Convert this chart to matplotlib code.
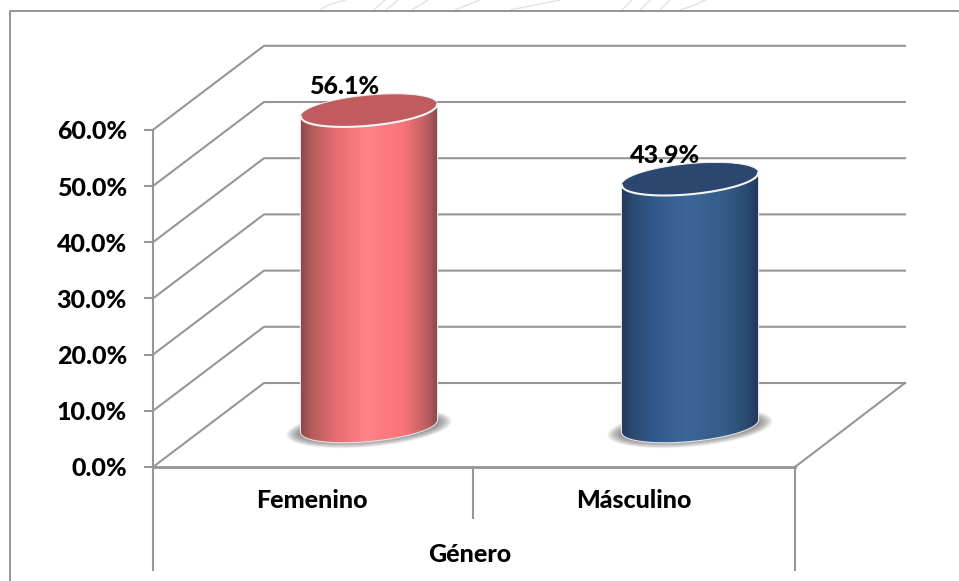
import numpy as np
import matplotlib
matplotlib.use("Agg")
import matplotlib.pyplot as plt
from matplotlib.colors import LinearSegmentedColormap
from matplotlib.patches import Ellipse, Polygon

categories = ["Femenino", "Másculino"]
values = [56.1, 43.9]
value_labels = ["56.1%", "43.9%"]
axis_title = "Género"
ticks = [0, 10, 20, 30, 40, 50, 60]
tick_labels = ["0.0%", "10.0%", "20.0%", "30.0%", "40.0%", "50.0%", "60.0%"]

body_stops = [0, 0.08, 0.25, 0.48, 0.75, 0.92, 1]
body_colors = [
    ["#8a4848", "#b35a5b", "#e26d70", "#ff8287", "#f9747a", "#bb5f61", "#8a4848"],
    ["#21385a", "#2a4a72", "#325b8b", "#3c659a", "#345d89", "#2a4a70", "#20375a"],
]
top_colors = ["#c05c5f", "#2b476f"]

# layout of the fake 3d box, in pixels
X0, X1, XMID = 153, 795, 473
Y0 = 467
PX_PER_UNIT = 5.62
DX, DY = 111, -84
GRID = "#969696"
FONT = "Lato"
TEXT_SIZE = 18


def y_of(v):
    return Y0 - v * PX_PER_UNIT


def ellipse_xy(cx, cy, t, a=68, b=15, slope=-0.09):
    x = cx + a * np.cos(t)
    y = cy + b * np.sin(t) + slope * a * np.cos(t)
    return x, y


def bold_text(x, y, s, ha="center", z=6):
    ax.text(x, y, s, ha=ha, va="center", fontsize=TEXT_SIZE, fontweight=900,
            family=FONT, color="#000000", zorder=z)


fig = plt.figure(figsize=(9.59, 5.81), dpi=100)
ax = fig.add_axes([0, 0, 1, 1])
ax.set_xlim(0, 959)
ax.set_ylim(581, 0)
ax.axis("off")

# faint scan-through of the page behind the chart
for xs in ([320, 328, 345], [374, 385], [386, 398], [412, 428], [455, 480], [510, 560],
           [622, 632], [640, 650], [660, 670], [680, 695, 705]):
    ax.plot(xs, np.linspace(10, 0, len(xs)), color="#e2e2e2", lw=1, zorder=0.5)

# outer chart frame
ax.plot([10, 10, 959], [581, 11, 11], color="#8c8c8c", lw=1.3, zorder=1)

# walls and floor
for v, lab in zip(ticks, tick_labels):
    y = y_of(v)
    ax.plot([X0 - 8, X0], [y, y], color=GRID, lw=1.5, zorder=1)
    ax.plot([X0, X0 + DX, X1 + DX - 1], [y, y + DY, y + DY], color=GRID, lw=1.5, zorder=1)
    bold_text(127, y + 2, lab, ha="right")

ax.plot([X0, X0], [y_of(60), 570], color=GRID, lw=1.5, zorder=2)
ax.plot([X0, X1], [Y0, Y0], color=GRID, lw=2, zorder=2)
ax.plot([X1, X1 + DX - 1], [Y0, Y0 + DY], color=GRID, lw=1.5, zorder=2)
ax.plot([XMID, XMID], [Y0, 518], color=GRID, lw=1.5, zorder=2)
ax.plot([X1, X1], [Y0, 570], color=GRID, lw=1.5, zorder=2)

# cylinders
centers = [369, 690]
for i, v in enumerate(values):
    cx = centers[i]
    y_bot = y_of(0) - 41
    y_top = y_bot - v * PX_PER_UNIT

    # soft floor shadow
    n = 14
    for k in range(n):
        f = 1 - k / n
        ax.add_patch(Ellipse((cx, y_bot + 2), 136 + 30 * f, 24 + 14 * f, angle=-5,
                             color="#404040", alpha=0.055, lw=0, zorder=3))

    # white halo around the body, then the gradient
    t = np.linspace(0, np.pi, 80)
    bx, by = ellipse_xy(cx, y_bot, t)
    tx, ty = ellipse_xy(cx, y_top, t + np.pi)
    poly = np.column_stack([np.r_[bx, tx], np.r_[by, ty]])
    ax.add_patch(Polygon(poly, closed=True, facecolor="none", edgecolor="#e4e4e4",
                         lw=1.6, zorder=4))
    cmap = LinearSegmentedColormap.from_list("body", list(zip(body_stops, body_colors[i])))
    im = ax.imshow(np.linspace(0, 1, 256).reshape(1, -1), cmap=cmap, aspect="auto",
                   extent=[cx - 69, cx + 69, y_bot + 25, y_top - 25], zorder=4.5)
    clip = Polygon(poly, closed=True, transform=ax.transData)
    im.set_clip_path(clip)

    # top cap
    t = np.linspace(0, 2 * np.pi, 160)
    cx_top, cy_top = ellipse_xy(cx, y_top, t)
    ax.add_patch(Polygon(np.column_stack([cx_top, cy_top]), closed=True,
                         facecolor=top_colors[i], edgecolor="none", zorder=5))
    t = np.linspace(0, np.pi, 80)
    ax.plot(*ellipse_xy(cx, y_top, t), color="#f4f4f4", lw=1.5, zorder=5.5)

    bold_text(cx - 25, y_top - 24, value_labels[i], z=3.5)

ax.set_xlim(0, 959)
ax.set_ylim(581, 0)

for name, x in zip(categories, [312, 634]):
    bold_text(x, 501, name)
bold_text(470, 554, axis_title)

fig.savefig("out.png", dpi=100)
